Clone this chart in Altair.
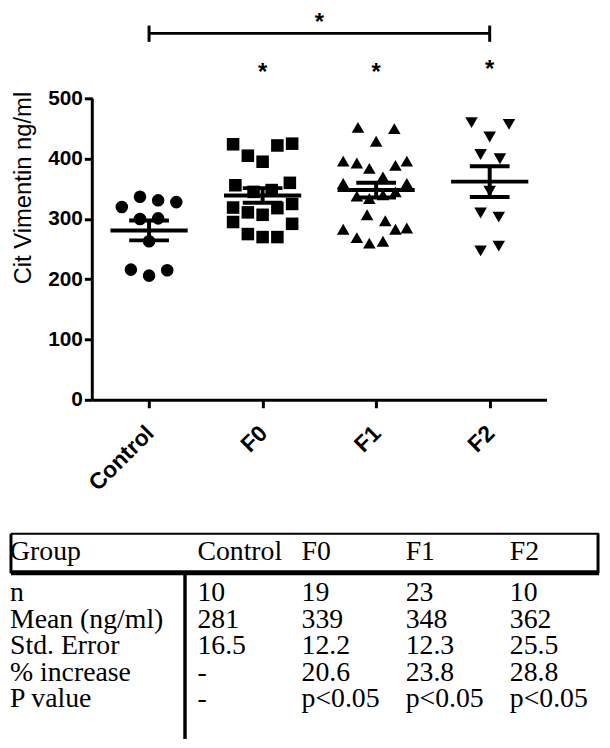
import altair as alt
import pandas as pd

# ---------------- data ----------------
groups = ["Control", "F0", "F1", "F2"]
shapes = ["circle", "square", "triangle-up", "triangle-down"]

control_values = [320, 337, 331, 328, 300, 301, 263, 216, 206, 215]
control_jitter = [-0.24, -0.08, 0.08, 0.24, -0.08, 0.08, 0.0, -0.16, 0.0, 0.16]
f0_values = [424, 405, 395, 422, 425, 356, 345, 348, 360, 319, 295, 311, 307, 318, 325, 292, 275, 270, 270]
f0_jitter = [-0.26, -0.13, 0.0, 0.13, 0.26, -0.24, -0.08, 0.08, 0.24, -0.26, -0.26, -0.13, 0.0, 0.13, 0.26, 0.26, -0.13, 0.0, 0.13]
f1_values = [452, 450, 429, 396, 393, 384, 389, 396, 370, 359, 359, 338, 334, 340, 345, 307, 297, 283, 283, 285, 269, 260, 263]
f1_jitter = [-0.16, 0.16, 0.0, -0.29, -0.17, -0.06, 0.17, 0.27, 0.06, -0.29, 0.27, -0.17, -0.06, 0.06, 0.17, -0.08, 0.08, -0.29, 0.17, 0.27, -0.17, -0.06, 0.06]
f2_values = [460, 457, 436, 407, 400, 346, 310, 303, 247, 255]
f2_jitter = [-0.16, 0.17, 0.0, -0.08, 0.09, 0.0, -0.08, 0.08, -0.08, 0.08]

means = [281, 339, 348, 362]
std_errors = [16.5, 12.2, 12.3, 25.5]

# significance annotations (group index, y value at top of star)
sig_groups = [1, 2, 3]
sig_star_y = [562, 562, 567]
bracket_from, bracket_to = 0, 3
bracket_y, bracket_cap_lo, bracket_cap_hi = 608, 594, 621
top_star_y = 645

table_header = ["Group", "Control", "F0", "F1", "F2"]
table_rows = [
    ["n", "10", "19", "23", "10"],
    ["Mean (ng/ml)", "281", "339", "348", "362"],
    ["Std. Error", "16.5", "12.2", "12.3", "25.5"],
    ["% increase", "-", "20.6", "23.8", "28.8"],
    ["P value", "-", "p<0.05", "p<0.05", "p<0.05"],
]

# ---------------- frames ----------------
pts = []
for gi, (vals, jit) in enumerate(zip([control_values, f0_values, f1_values, f2_values],
                                     [control_jitter, f0_jitter, f1_jitter, f2_jitter])):
    for v, j in zip(vals, jit):
        pts.append({"group": groups[gi], "pos": gi + j, "value": v})
points_df = pd.DataFrame(pts)

stats_df = pd.DataFrame({"group": groups, "idx": list(range(len(groups))),
                         "mean": means, "se": std_errors})
stars_df = pd.DataFrame({"idx": sig_groups, "y": sig_star_y, "t": ["*"] * len(sig_groups)})
bracket_df = pd.DataFrame({"x1": [bracket_from], "x2": [bracket_to], "y": [bracket_y],
                           "mid": [(bracket_from + bracket_to) / 2], "ty": [top_star_y], "t": ["*"]})
caps_df = pd.DataFrame({"x": [bracket_from, bracket_to], "lo": [bracket_cap_lo] * 2,
                        "hi": [bracket_cap_hi] * 2})

cells = []
for ci, h in enumerate(table_header):
    cells.append({"row": 0, "col": ci, "text": h})
for ri, r in enumerate(table_rows):
    for ci, t in enumerate(r):
        cells.append({"row": ri + 1, "col": ci, "text": t})
cells_df = pd.DataFrame(cells)

one = pd.DataFrame({"a": [0]})

# ---------------- plot ----------------
FONT = "Liberation Sans"
x_scale = alt.Scale(domain=[-0.5, 3.5], nice=False, zero=False)
y_scale = alt.Scale(domain=[0, 645], nice=False)

x_axis = alt.Axis(values=[0, 1, 2, 3], labelExpr="['Control','F0','F1','F2'][datum.value]",
                  labelAngle=-45, labelFontSize=23, labelFontWeight="bold", labelFont=FONT,
                  labelColor="black", title=None, grid=False, domainColor="black",
                  domainWidth=3, tickColor="black", tickWidth=3, tickSize=8,
                  labelPadding=14, labelOffset=-7)
y_axis = alt.Axis(values=[0, 100, 200, 300, 400, 500], domain=False, grid=False,
                  title="Cit Vimentin ng/ml", titleFontSize=24, titleFont=FONT,
                  titleFontWeight="normal", titleColor="black", titlePadding=12, titleY=178,
                  labelFontSize=21, labelFontWeight="bold", labelFont=FONT, labelColor="black",
                  tickColor="black", tickWidth=3, tickSize=8, labelPadding=2)

base_pts = alt.Chart(points_df).mark_point(filled=True, size=160, opacity=1, color="black").encode(
    x=alt.X("pos:Q", scale=x_scale, axis=x_axis),
    y=alt.Y("value:Q", scale=y_scale, axis=y_axis),
    shape=alt.Shape("group:N", scale=alt.Scale(domain=groups, range=shapes), legend=None),
)

y_line = alt.Chart(one).mark_rule(color="black", strokeWidth=3).encode(
    x=alt.value(0), y=alt.datum(0), y2=alt.datum(500))

mean_lines = alt.Chart(stats_df).transform_calculate(
    xa="datum.idx - 0.34", xb="datum.idx + 0.34").mark_rule(color="black", strokeWidth=4).encode(
    x="xa:Q", x2="xb:Q", y="mean:Q")
sem_caps = alt.Chart(stats_df).transform_calculate(
    xa="datum.idx - 0.175", xb="datum.idx + 0.175",
    up="datum.mean + datum.se", dn="datum.mean - datum.se").transform_fold(
    ["up", "dn"], as_=["k", "yy"]).mark_rule(color="black", strokeWidth=4).encode(
    x="xa:Q", x2="xb:Q", y="yy:Q")
sem_vert = alt.Chart(stats_df).transform_calculate(
    up="datum.mean + datum.se", dn="datum.mean - datum.se").mark_rule(
    color="black", strokeWidth=4).encode(x="idx:Q", y="dn:Q", y2="up:Q")

stars = alt.Chart(stars_df).mark_text(font=FONT, fontSize=24, fontWeight="bold",
                                      baseline="top", color="black").encode(
    x="idx:Q", y="y:Q", text="t:N")
bracket = alt.Chart(bracket_df).mark_rule(color="black", strokeWidth=3).encode(
    x="x1:Q", x2="x2:Q", y="y:Q")
bracket_caps = alt.Chart(caps_df).mark_rule(color="black", strokeWidth=3).encode(
    x="x:Q", y="lo:Q", y2="hi:Q")
top_star = alt.Chart(bracket_df).mark_text(font=FONT, fontSize=24, fontWeight="bold",
                                           baseline="top", color="black").encode(
    x="mid:Q", y="ty:Q", text="t:N")

plot = alt.layer(base_pts, y_line, mean_lines, sem_caps, sem_vert, stars, bracket,
                 bracket_caps, top_star).properties(width=458, height=392)

# ---------------- table (origin shared with the plot's y axis) ----------------
SERIF = "Liberation Serif"
tx = alt.Scale(domain=[0, 1, 4], range=[-83, 106, 421])
ty = alt.Scale(domain=[0, 1, 5], range=[27, 68, 175])
table_text = alt.Chart(cells_df).mark_text(font=SERIF, fontSize=28, align="left",
                                           baseline="alphabetic", color="black").encode(
    x=alt.X("col:Q", scale=tx, axis=None),
    y=alt.Y("row:Q", scale=ty, axis=None),
    text="text:N")

top_border = alt.Chart(one).mark_rule(color="black", strokeWidth=2).encode(
    x=alt.value(-82), x2=alt.value(511), y=alt.value(0))
left_border = alt.Chart(one).mark_rule(color="black", strokeWidth=3).encode(
    x=alt.value(-82), y=alt.value(0), y2=alt.value(40))
right_border = alt.Chart(one).mark_rule(color="black", strokeWidth=3).encode(
    x=alt.value(510), y=alt.value(0), y2=alt.value(40))
header_line = alt.Chart(one).mark_rule(color="black", strokeWidth=5).encode(
    x=alt.value(-82), x2=alt.value(511), y=alt.value(39.5))
vert_line = alt.Chart(one).mark_rule(color="black", strokeWidth=3.5).encode(
    x=alt.value(93.5), y=alt.value(39), y2=alt.value(207))

table = alt.layer(table_text, top_border, left_border, right_border, header_line,
                  vert_line).properties(width=500, height=207)

chart = alt.vconcat(plot, table, spacing=36).properties(padding=0).configure_view(stroke=None)

chart.save("out.html", embed_options={"renderer": "svg", "actions": False})
